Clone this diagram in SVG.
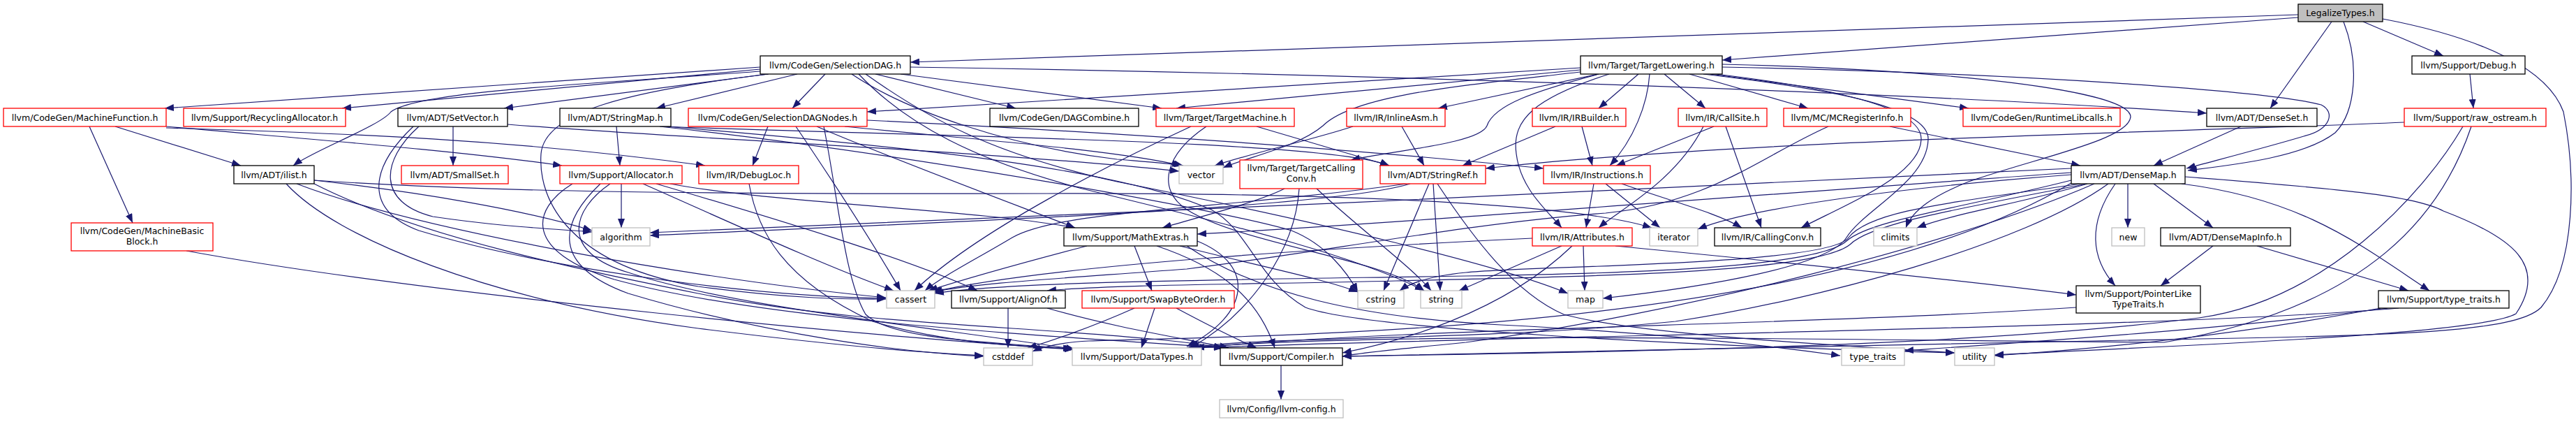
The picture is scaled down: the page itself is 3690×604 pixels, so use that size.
<svg xmlns="http://www.w3.org/2000/svg" width="3690" height="604" viewBox="0 0 3690 604">
<style>
.nb rect{fill:#fff;stroke:#000;stroke-width:1.3}
.nr rect{fill:#fff;stroke:#ff0000;stroke-width:1.3}
.ng rect{fill:#fff;stroke:#bfbfbf;stroke-width:1.3}
.nt rect{fill:#bfbfbf;stroke:#000;stroke-width:1.3}
text{font-family:"DejaVu Sans","Liberation Sans",sans-serif;font-size:12.5px;text-anchor:middle;fill:#000}
#edges path{fill:none;stroke:#191970;stroke-width:1.2;marker-end:url(#ah)}
</style>
<defs>
<marker id="ah" viewBox="0 0 13 10" refX="13" refY="5" markerWidth="13" markerHeight="10" markerUnits="userSpaceOnUse" orient="auto"><path d="M0,0 L13,5 L0,10 z" fill="#191970" stroke="none"/></marker>
</defs>
<rect x="0" y="0" width="3690" height="604" fill="#fff"/>
<g id="edges">
<path d="M3292,21 L1304,89"/>
<path d="M3292,25 L2467,86"/>
<path d="M3340,31 L3252,155"/>
<path d="M3357,31 C3380,90 3375,160 3345,190 C3300,225 3200,236 3134,244"/>
<path d="M3385,31 L3500,80"/>
<path d="M3413,27 C3560,55 3650,100 3672,160 C3690,250 3690,380 3640,440 C3600,480 3400,480 3000,488 C2500,500 2100,505 1923,510"/>
<path d="M1089,96 L236,155"/>
<path d="M1089,99 L490,155"/>
<path d="M1100,106 L722,155"/>
<path d="M1142,106 L940,155"/>
<path d="M1182,106 L1135,155"/>
<path d="M1089,102 C850,120 600,130 560,160 C545,180 450,215 420,237"/>
<path d="M1254,106 L1455,155"/>
<path d="M1290,106 L1664,155"/>
<path d="M1304,96 C1900,105 2700,130 3161,162"/>
<path d="M1220,106 C1300,160 1450,210 1600,228 C1650,232 1680,234 1695,237"/>
<path d="M1101,106 C900,130 780,160 775,220 C770,290 820,380 1000,410 C1150,430 1230,428 1269,428"/>
<path d="M1240,106 C1330,170 1420,220 1600,260 C1900,320 2150,380 2246,420"/>
<path d="M1230,106 C1300,180 1400,230 1550,270 C1800,330 1950,370 2040,416"/>
<path d="M2264,97 L1242,160"/>
<path d="M2264,100 L1685,155"/>
<path d="M2264,103 C2100,122 1940,135 1895,180 C1860,210 1790,224 1752,240"/>
<path d="M2290,106 L2060,155"/>
<path d="M2290,106 C2200,130 2140,150 2130,180 C2120,205 2000,215 1935,229"/>
<path d="M2347,106 L2290,155"/>
<path d="M2363,106 C2360,150 2340,200 2306,237"/>
<path d="M2384,106 L2443,155"/>
<path d="M2420,106 L2590,155"/>
<path d="M2450,106 L2820,155"/>
<path d="M2467,96 C2900,105 3250,130 3325,150 C3345,160 3340,185 3300,195 C3250,210 3180,228 3132,241"/>
<path d="M2467,92 C2800,100 3050,130 3052,167 C3050,200 2920,225 2820,260 C2770,280 2740,300 2730,326"/>
<path d="M2440,106 C2600,125 2765,150 2762,200 C2760,260 2670,300 2645,340 C2620,380 2450,410 2296,427"/>
<path d="M2305,106 C2200,140 2165,170 2172,220 C2178,270 2215,300 2237,326"/>
<path d="M2440,104 C2600,122 2755,150 2752,200 C2750,250 2650,290 2580,326"/>
<path d="M165,181 L345,237"/>
<path d="M128,181 L190,319"/>
<path d="M238,181 C450,200 650,215 805,237"/>
<path d="M238,183 C450,190 700,195 1010,237"/>
<path d="M267,359 C600,420 1300,488 1536,499"/>
<path d="M649,181 L649,237"/>
<path d="M600,181 C545,230 540,290 620,310 C720,325 800,328 848,332"/>
<path d="M592,181 C530,240 520,300 600,330 C800,390 1100,425 1269,427"/>
<path d="M727,178 C1000,200 1400,215 1689,245"/>
<path d="M883,181 L888,237"/>
<path d="M950,181 C1300,195 1900,200 1990,237"/>
<path d="M945,181 C1300,220 1750,300 1850,330 C1900,350 1930,390 1945,418"/>
<path d="M955,181 C1300,210 1600,240 1735,300 C1790,330 1800,400 1870,440 C1950,470 2400,495 2800,505"/>
<path d="M1100,181 L1078,237"/>
<path d="M1210,181 C1400,200 1600,215 1692,237"/>
<path d="M1140,181 C1180,240 1240,330 1290,416"/>
<path d="M1170,181 C1260,220 1420,280 1540,326"/>
<path d="M1180,181 C1200,280 1210,400 1240,450 C1280,490 1450,490 1538,500"/>
<path d="M1242,172 C1600,190 1900,210 2211,241"/>
<path d="M1800,181 L1990,237"/>
<path d="M1706,181 C1600,230 1400,330 1310,416"/>
<path d="M1728,181 C1670,220 1655,270 1700,300 C1780,350 1980,370 2040,416"/>
<path d="M2008,181 L2040,237"/>
<path d="M1938,181 C1880,200 1790,220 1740,237"/>
<path d="M2228,181 L2095,237"/>
<path d="M2266,181 L2281,237"/>
<path d="M2455,181 L2315,237"/>
<path d="M2440,181 C2400,260 2320,300 2290,326"/>
<path d="M2472,181 L2523,326"/>
<path d="M2707,181 L2980,237"/>
<path d="M2619,181 C2520,225 2450,290 2300,305 C2100,320 1900,360 1700,385 C1500,400 1400,405 1337,418"/>
<path d="M3210,181 L3085,237"/>
<path d="M3444,175 C3100,190 2500,200 2128,241"/>
<path d="M3528,181 C3470,280 3330,430 3150,455 C2800,500 2200,505 1923,510"/>
<path d="M3540,181 C3500,300 3400,440 3100,490 C2700,488 2000,472 1700,498"/>
<path d="M3538,106 L3543,155"/>
<path d="M450,258 C600,275 750,300 848,330"/>
<path d="M425,263 C600,330 1000,400 1269,426"/>
<path d="M410,263 C480,340 700,430 1000,470 C1200,495 1320,505 1409,509"/>
<path d="M450,258 C700,275 1000,278 1500,277 C1900,276 2250,290 2366,326"/>
<path d="M450,263 C600,340 850,390 1000,420 C1150,450 1300,460 1450,470 C1600,480 1700,488 1752,498"/>
<path d="M890,263 L890,326"/>
<path d="M921,263 C1050,320 1180,380 1280,416"/>
<path d="M940,263 C1100,310 1300,370 1400,416"/>
<path d="M960,263 C1100,290 1400,300 1540,326"/>
<path d="M874,263 C820,300 800,360 900,390 C1050,440 1350,470 1540,500"/>
<path d="M820,263 C760,300 750,360 880,400 C1100,460 1500,480 1752,498"/>
<path d="M860,263 C800,320 790,380 900,420 C1100,480 1300,505 1409,510"/>
<path d="M1073,263 C1085,330 1120,400 1250,460 C1350,490 1450,495 1538,500"/>
<path d="M1840,270 C1800,290 1720,310 1665,326"/>
<path d="M1861,270 C1855,360 1790,450 1705,498"/>
<path d="M1886,270 C1950,330 2020,380 2050,416"/>
<path d="M2020,263 C1900,300 1300,320 931,337"/>
<path d="M2015,263 C1750,300 1520,300 1450,340 C1400,370 1350,395 1325,416"/>
<path d="M2047,263 L1982,416"/>
<path d="M2053,263 L2063,416"/>
<path d="M2059,263 C2110,340 2170,420 2240,450 C2350,480 2650,495 2800,505"/>
<path d="M2283,263 L2272,326"/>
<path d="M2300,263 L2378,326"/>
<path d="M2323,263 C2400,290 2460,305 2495,326"/>
<path d="M3085,263 L3170,326"/>
<path d="M3030,263 C2990,320 2995,370 3030,409"/>
<path d="M3125,263 C3300,285 3380,350 3480,416"/>
<path d="M3048,263 L3048,326"/>
<path d="M2990,263 C2900,290 2800,305 2746,326"/>
<path d="M2967,250 C2700,270 2500,300 2432,328"/>
<path d="M2967,258 C2800,300 2680,315 2645,345 C2600,385 2300,392 2100,395 C1800,400 1450,402 1339,420"/>
<path d="M2967,262 C2600,480 1800,480 1560,488 C1520,490 1495,496 1479,503"/>
<path d="M3130,253 C3350,270 3460,280 3500,302 C3600,340 3650,380 3604,449 C3550,480 3100,495 2857,508"/>
<path d="M2967,241 C2400,270 1500,310 931,333"/>
<path d="M2967,247 C2500,280 2000,320 1715,335"/>
<path d="M3000,263 C2800,350 2400,450 2100,490 C2000,500 1950,505 1923,510"/>
<path d="M2990,263 C2800,300 2680,320 2650,350 C2600,390 2300,395 2000,402 C1800,407 1600,407 1500,416"/>
<path d="M3020,263 C2900,350 2600,430 2400,460 C2100,490 1800,480 1705,498"/>
<path d="M2980,263 C2800,290 2680,300 2648,340 C2620,380 2200,380 2100,390 C2050,395 2020,405 2005,416"/>
<path d="M1657,352 C1740,380 1800,420 1826,498"/>
<path d="M1625,352 L1650,416"/>
<path d="M1715,345 C1800,380 1790,450 1700,496"/>
<path d="M1557,352 C1450,380 1380,400 1330,416"/>
<path d="M1690,352 C1800,380 1900,400 1945,418"/>
<path d="M1700,352 C1800,420 1950,455 2150,465 C2350,475 2500,490 2636,509"/>
<path d="M2268,352 L2270,416"/>
<path d="M2237,352 L2090,416"/>
<path d="M2252,352 C2150,450 2000,490 1923,505"/>
<path d="M2314,352 C2500,370 2800,400 2974,422"/>
<path d="M2195,341 C1900,355 1500,380 1335,418"/>
<path d="M3170,352 L3095,409"/>
<path d="M3233,352 L3450,416"/>
<path d="M2974,440 C2600,465 2000,470 1712,498"/>
<path d="M3436,441 C3100,470 2200,480 1708,498"/>
<path d="M3420,441 C3200,470 2900,490 2728,502"/>
<path d="M3410,441 C3200,480 3000,500 2857,509"/>
<path d="M1444,441 L1444,498"/>
<path d="M1500,441 C1600,470 1700,485 1760,498"/>
<path d="M1625,441 C1560,470 1500,490 1472,498"/>
<path d="M1654,441 L1635,498"/>
<path d="M1685,441 C1730,465 1770,485 1800,498"/>
<path d="M1835,523 L1835,572"/>
</g>
<g id="n_LegalizeTypes" class="nt"><rect x="3292" y="6" width="121" height="25"/><text x="3352.5" y="23">LegalizeTypes.h</text></g>
<g id="n_SelectionDAG" class="nb"><rect x="1089" y="80" width="215" height="26"/><text x="1196.5" y="97.5">llvm/CodeGen/SelectionDAG.h</text></g>
<g id="n_TargetLowering" class="nb"><rect x="2264" y="80" width="203" height="26"/><text x="2365.5" y="97.5">llvm/Target/TargetLowering.h</text></g>
<g id="n_Debug" class="nb"><rect x="3455" y="80" width="162" height="26"/><text x="3536" y="97.5">llvm/Support/Debug.h</text></g>
<g id="n_MachineFunction" class="nr"><rect x="5" y="155" width="233" height="26"/><text x="121.5" y="172.5">llvm/CodeGen/MachineFunction.h</text></g>
<g id="n_RecyclingAllocator" class="nr"><rect x="263" y="155" width="232" height="26"/><text x="379" y="172.5">llvm/Support/RecyclingAllocator.h</text></g>
<g id="n_SetVector" class="nb"><rect x="570" y="155" width="157" height="26"/><text x="648.5" y="172.5">llvm/ADT/SetVector.h</text></g>
<g id="n_StringMap" class="nb"><rect x="802" y="155" width="159" height="26"/><text x="881.5" y="172.5">llvm/ADT/StringMap.h</text></g>
<g id="n_SelectionDAGNodes" class="nr"><rect x="986" y="155" width="256" height="26"/><text x="1114" y="172.5">llvm/CodeGen/SelectionDAGNodes.h</text></g>
<g id="n_DAGCombine" class="nb"><rect x="1418" y="155" width="213" height="26"/><text x="1524.5" y="172.5">llvm/CodeGen/DAGCombine.h</text></g>
<g id="n_TargetMachine" class="nr"><rect x="1656" y="155" width="198" height="26"/><text x="1755" y="172.5">llvm/Target/TargetMachine.h</text></g>
<g id="n_InlineAsm" class="nr"><rect x="1929" y="155" width="141" height="26"/><text x="1999.5" y="172.5">llvm/IR/InlineAsm.h</text></g>
<g id="n_IRBuilder" class="nr"><rect x="2195" y="155" width="134" height="26"/><text x="2262" y="172.5">llvm/IR/IRBuilder.h</text></g>
<g id="n_CallSite" class="nr"><rect x="2404" y="155" width="127" height="26"/><text x="2467.5" y="172.5">llvm/IR/CallSite.h</text></g>
<g id="n_MCRegisterInfo" class="nr"><rect x="2555" y="155" width="182" height="26"/><text x="2646" y="172.5">llvm/MC/MCRegisterInfo.h</text></g>
<g id="n_RuntimeLibcalls" class="nr"><rect x="2812" y="155" width="225" height="26"/><text x="2924.5" y="172.5">llvm/CodeGen/RuntimeLibcalls.h</text></g>
<g id="n_DenseSet" class="nb"><rect x="3161" y="155" width="158" height="26"/><text x="3240" y="172.5">llvm/ADT/DenseSet.h</text></g>
<g id="n_raw_ostream" class="nr"><rect x="3444" y="155" width="203" height="26"/><text x="3545.5" y="172.5">llvm/Support/raw_ostream.h</text></g>
<g id="n_ilist" class="nb"><rect x="335" y="237" width="115" height="26"/><text x="392.5" y="254.5">llvm/ADT/ilist.h</text></g>
<g id="n_SmallSet" class="nr"><rect x="575" y="237" width="153" height="26"/><text x="651.5" y="254.5">llvm/ADT/SmallSet.h</text></g>
<g id="n_Allocator" class="nr"><rect x="802" y="237" width="175" height="26"/><text x="889.5" y="254.5">llvm/Support/Allocator.h</text></g>
<g id="n_DebugLoc" class="nr"><rect x="1001" y="237" width="143" height="26"/><text x="1072.5" y="254.5">llvm/IR/DebugLoc.h</text></g>
<g id="n_vector" class="ng"><rect x="1689" y="237" width="63" height="26"/><text x="1720.5" y="254.5">vector</text></g>
<g id="n_TargetCallingConv" class="nr"><rect x="1776" y="229" width="176" height="41"/><text x="1864" y="245">llvm/Target/TargetCalling</text><text x="1864" y="260">Conv.h</text></g>
<g id="n_StringRef" class="nr"><rect x="1977" y="237" width="151" height="26"/><text x="2052.5" y="254.5">llvm/ADT/StringRef.h</text></g>
<g id="n_Instructions" class="nr"><rect x="2211" y="237" width="153" height="26"/><text x="2287.5" y="254.5">llvm/IR/Instructions.h</text></g>
<g id="n_DenseMap" class="nb"><rect x="2967" y="237" width="163" height="26"/><text x="3048.5" y="254.5">llvm/ADT/DenseMap.h</text></g>
<g id="n_MachineBasicBlock" class="nr"><rect x="102" y="319" width="203" height="40"/><text x="203.5" y="335">llvm/CodeGen/MachineBasic</text><text x="203.5" y="350">Block.h</text></g>
<g id="n_algorithm" class="ng"><rect x="848" y="326" width="83" height="26"/><text x="889.5" y="343.5">algorithm</text></g>
<g id="n_MathExtras" class="nb"><rect x="1524" y="326" width="191" height="26"/><text x="1619.5" y="343.5">llvm/Support/MathExtras.h</text></g>
<g id="n_Attributes" class="nr"><rect x="2195" y="326" width="143" height="26"/><text x="2266.5" y="343.5">llvm/IR/Attributes.h</text></g>
<g id="n_iterator" class="ng"><rect x="2363" y="326" width="69" height="26"/><text x="2397.5" y="343.5">iterator</text></g>
<g id="n_CallingConv" class="nb"><rect x="2456" y="326" width="152" height="26"/><text x="2532" y="343.5">llvm/IR/CallingConv.h</text></g>
<g id="n_climits" class="ng"><rect x="2684" y="326" width="62" height="26"/><text x="2715" y="343.5">climits</text></g>
<g id="n_new" class="ng"><rect x="3025" y="326" width="47" height="26"/><text x="3048.5" y="343.5">new</text></g>
<g id="n_DenseMapInfo" class="nb"><rect x="3095" y="326" width="186" height="26"/><text x="3188" y="343.5">llvm/ADT/DenseMapInfo.h</text></g>
<g id="n_cassert" class="ng"><rect x="1270" y="416" width="69" height="25"/><text x="1304.5" y="433">cassert</text></g>
<g id="n_AlignOf" class="nb"><rect x="1363" y="416" width="163" height="25"/><text x="1444.5" y="433">llvm/Support/AlignOf.h</text></g>
<g id="n_SwapByteOrder" class="nr"><rect x="1550" y="416" width="218" height="25"/><text x="1659" y="433">llvm/Support/SwapByteOrder.h</text></g>
<g id="n_cstring" class="ng"><rect x="1945" y="416" width="66" height="25"/><text x="1978" y="433">cstring</text></g>
<g id="n_string" class="ng"><rect x="2035" y="416" width="59" height="25"/><text x="2064.5" y="433">string</text></g>
<g id="n_map" class="ng"><rect x="2246" y="416" width="50" height="25"/><text x="2271" y="433">map</text></g>
<g id="n_PointerLikeTypeTraits" class="nb"><rect x="2974" y="409" width="178" height="39"/><text x="3063" y="425">llvm/Support/PointerLike</text><text x="3063" y="440">TypeTraits.h</text></g>
<g id="n_support_type_traits" class="nb"><rect x="3407" y="416" width="187" height="25"/><text x="3500.5" y="433">llvm/Support/type_traits.h</text></g>
<g id="n_cstddef" class="ng"><rect x="1409" y="498" width="70" height="25"/><text x="1444" y="515">cstddef</text></g>
<g id="n_DataTypes" class="ng"><rect x="1536" y="498" width="185" height="25"/><text x="1628.5" y="515">llvm/Support/DataTypes.h</text></g>
<g id="n_Compiler" class="nb"><rect x="1748" y="498" width="175" height="25"/><text x="1835.5" y="515">llvm/Support/Compiler.h</text></g>
<g id="n_type_traits" class="ng"><rect x="2638" y="498" width="90" height="25"/><text x="2683" y="515">type_traits</text></g>
<g id="n_utility" class="ng"><rect x="2800" y="498" width="57" height="25"/><text x="2828.5" y="515">utility</text></g>
<g id="n_llvm_config" class="ng"><rect x="1747" y="572" width="177" height="26"/><text x="1835.5" y="589.5">llvm/Config/llvm-config.h</text></g>
</svg>
